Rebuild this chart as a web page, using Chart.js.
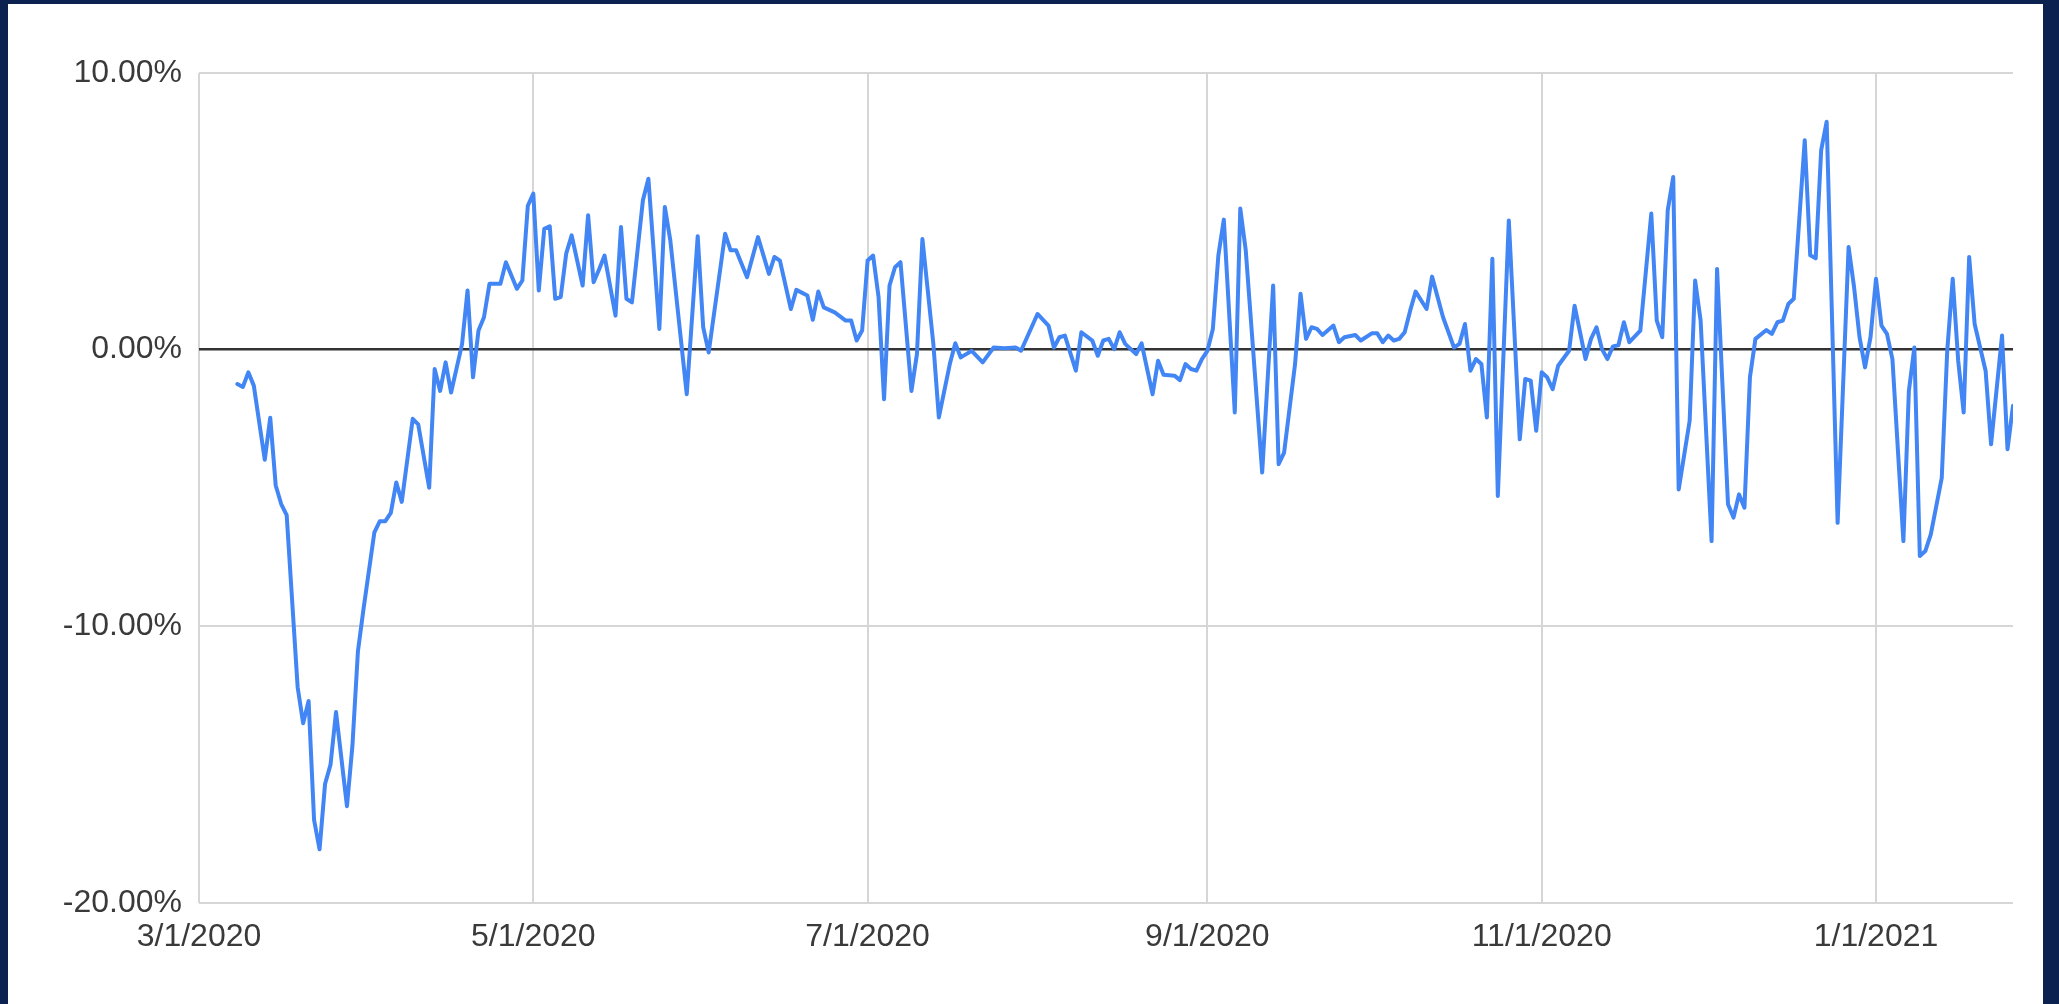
<!DOCTYPE html>
<html>
<head>
<meta charset="utf-8">
<title>Daily change</title>
<script src="https://cdn.jsdelivr.net/npm/chart.js@4.4.1/dist/chart.umd.min.js"></script>
<style>
  html, body { margin: 0; padding: 0; background: #0b2250; overflow: hidden; }
  #frame { position: absolute; left: 8px; top: 4px; width: 2035px; height: 1000px; background: #fff; }
</style>
</head>
<body>
<div id="frame"><canvas id="changeChart" width="2035" height="1000"></canvas></div>
<script>
// dates (M/D/YYYY)
const dates = [
    '3/8/2020','3/9/2020','3/10/2020','3/11/2020','3/13/2020','3/14/2020','3/15/2020','3/16/2020','3/17/2020','3/19/2020','3/20/2020','3/21/2020','3/22/2020','3/23/2020','3/24/2020','3/25/2020','3/26/2020','3/28/2020','3/29/2020','3/30/2020','3/31/2020',
    '4/2/2020','4/3/2020','4/4/2020','4/5/2020','4/6/2020','4/7/2020','4/9/2020','4/10/2020','4/12/2020','4/13/2020','4/14/2020','4/15/2020','4/16/2020','4/18/2020','4/19/2020','4/20/2020','4/21/2020','4/22/2020','4/23/2020','4/25/2020','4/26/2020','4/28/2020','4/29/2020','4/30/2020',
    '5/1/2020','5/2/2020','5/3/2020','5/4/2020','5/5/2020','5/6/2020','5/7/2020','5/8/2020','5/10/2020','5/11/2020','5/12/2020','5/13/2020','5/14/2020','5/16/2020','5/17/2020','5/18/2020','5/19/2020','5/21/2020','5/22/2020','5/24/2020','5/25/2020','5/26/2020','5/29/2020','5/31/2020',
    '6/1/2020','6/2/2020','6/5/2020','6/6/2020','6/7/2020','6/9/2020','6/11/2020','6/13/2020','6/14/2020','6/15/2020','6/17/2020','6/18/2020','6/20/2020','6/21/2020','6/22/2020','6/23/2020','6/25/2020','6/27/2020','6/28/2020','6/29/2020','6/30/2020',
    '7/1/2020','7/2/2020','7/3/2020','7/4/2020','7/5/2020','7/6/2020','7/7/2020','7/9/2020','7/10/2020','7/11/2020','7/13/2020','7/14/2020','7/16/2020','7/17/2020','7/18/2020','7/19/2020','7/20/2020','7/22/2020','7/24/2020','7/26/2020','7/28/2020','7/29/2020',
    '8/1/2020','8/3/2020','8/4/2020','8/5/2020','8/6/2020','8/8/2020','8/9/2020','8/11/2020','8/12/2020','8/13/2020','8/14/2020','8/15/2020','8/16/2020','8/17/2020','8/19/2020','8/20/2020','8/22/2020','8/23/2020','8/24/2020','8/26/2020','8/27/2020','8/28/2020','8/29/2020','8/30/2020','8/31/2020',
    '9/1/2020','9/2/2020','9/3/2020','9/4/2020','9/6/2020','9/7/2020','9/8/2020','9/11/2020','9/13/2020','9/14/2020','9/15/2020','9/17/2020','9/18/2020','9/19/2020','9/20/2020','9/21/2020','9/22/2020','9/24/2020','9/25/2020','9/26/2020','9/28/2020','9/29/2020',
    '10/1/2020','10/2/2020','10/3/2020','10/4/2020','10/5/2020','10/6/2020','10/7/2020','10/8/2020','10/9/2020','10/11/2020','10/12/2020','10/14/2020','10/16/2020','10/17/2020','10/18/2020','10/19/2020','10/20/2020','10/21/2020','10/22/2020','10/23/2020','10/24/2020','10/26/2020','10/28/2020','10/29/2020','10/30/2020','10/31/2020',
    '11/1/2020','11/2/2020','11/3/2020','11/4/2020','11/6/2020','11/7/2020','11/8/2020','11/9/2020','11/10/2020','11/11/2020','11/12/2020','11/13/2020','11/14/2020','11/15/2020','11/16/2020','11/17/2020','11/19/2020','11/21/2020','11/22/2020','11/23/2020','11/24/2020','11/25/2020','11/26/2020','11/28/2020','11/29/2020','11/30/2020',
    '12/2/2020','12/3/2020','12/5/2020','12/6/2020','12/7/2020','12/8/2020','12/9/2020','12/10/2020','12/12/2020','12/13/2020','12/14/2020','12/15/2020','12/16/2020','12/17/2020','12/19/2020','12/20/2020','12/21/2020','12/22/2020','12/23/2020','12/25/2020','12/27/2020','12/28/2020','12/29/2020','12/30/2020','12/31/2020',
    '1/1/2021','1/2/2021','1/3/2021','1/4/2021','1/6/2021','1/7/2021','1/8/2021','1/9/2021','1/10/2021','1/11/2021','1/13/2021','1/14/2021','1/15/2021','1/16/2021','1/17/2021','1/18/2021','1/19/2021','1/21/2021','1/22/2021','1/24/2021','1/25/2021','1/26/2021'
];

// percent change, same order as dates
const values = [
    -1.24,-1.35,-0.82,-1.30,-3.98,-2.46,-4.91,-5.58,-5.98,-12.2,-13.5,-12.7,-17.0,-18.06,-15.7,-15.0,-13.1,-16.5,-14.3,-10.9,-9.4,
    -6.6,-6.2,-6.2,-5.9,-4.8,-5.5,-2.5,-2.7,-4.99,-0.70,-1.49,-0.46,-1.55,0.2,2.14,-1.0,0.69,1.17,2.38,2.38,3.16,2.2,2.5,5.2,
    5.64,2.14,4.37,4.46,1.84,1.9,3.47,4.13,2.32,4.86,2.44,2.9,3.4,1.23,4.43,1.84,1.71,5.4,6.18,0.75,5.16,3.95,-1.61,4.1,
    0.81,-0.1,4.19,3.59,3.59,2.62,4.07,2.74,3.35,3.22,1.47,2.16,1.96,1.08,2.1,1.53,1.35,1.05,1.05,0.33,0.69,
    3.22,3.4,1.9,-1.79,2.32,2.98,3.16,-1.49,-0.16,4.0,0.2,-2.45,-0.52,0.23,-0.28,-0.16,-0.04,-0.46,0.08,0.05,0.08,-0.04,
    1.29,0.87,0.08,0.45,0.51,-0.76,0.63,0.33,-0.22,0.33,0.39,0.02,0.63,0.21,-0.16,0.23,-1.61,-0.4,-0.91,-0.94,-1.10,-0.52,-0.7,-0.76,-0.34,
    -0.04,0.75,3.4,4.7,-2.27,5.1,3.59,-4.44,2.32,-4.14,-3.72,-0.52,2.02,0.39,0.81,0.75,0.53,0.87,0.27,0.45,0.53,0.33,
    0.59,0.59,0.27,0.51,0.33,0.39,0.63,1.41,2.1,1.47,2.64,1.17,0.08,0.21,0.93,-0.76,-0.34,-0.52,-2.45,3.29,-5.29,4.67,-3.24,-1.06,-1.12,-2.93,
    -0.82,-1.0,-1.43,-0.58,-0.04,1.59,0.63,-0.34,0.39,0.81,0.02,-0.34,0.12,0.16,0.99,0.27,0.69,4.92,1.05,0.45,5.04,6.24,-5.05,-2.57,2.5,1.05,
    -6.92,2.92,-5.59,-6.07,-5.23,-5.71,-1.0,0.39,0.71,0.57,0.99,1.05,1.65,1.84,7.57,3.41,3.3,7.21,8.24,-6.26,3.71,2.26,0.45,-0.64,0.45,
    2.56,0.87,0.57,-0.34,-6.92,-1.49,0.08,-7.46,-7.28,-6.68,-4.63,-0.04,2.56,-0.4,-2.27,3.35,0.93,-0.76,-3.42,0.51,-3.6,-2.03
];

const xTickLabels = ['3/1/2020', '5/1/2020', '7/1/2020', '9/1/2020', '11/1/2020', '1/1/2021'];
const yTickValues = [-20, -10, 0, 10];

// days since 3/1/2020, so the x axis is a plain linear scale
function dayOffset(str) {
    const p = str.split('/').map(Number);
    return (Date.UTC(p[2], p[0] - 1, p[1]) - Date.UTC(2020, 2, 1)) / 86400000;
}

function initChart() {
    const ctx = document.getElementById('changeChart').getContext('2d');
    const points = dates.map((d, i) => ({ x: dayOffset(d), y: values[i] }));
    const tickDays = xTickLabels.map(dayOffset);

    new Chart(ctx, {
        type: 'line',
        data: {
            datasets: [{
                data: points,
                borderColor: '#4285f4',
                borderWidth: 4,
                borderJoinStyle: 'round',
                borderCapStyle: 'round',
                pointRadius: 0,
                tension: 0,
                fill: false
            }]
        },
        options: {
            responsive: false,
            animation: false,
            layout: { padding: { left: 0, top: 69, right: 30, bottom: 0 } },
            plugins: {
                legend: { display: false },
                tooltip: { enabled: false }
            },
            scales: {
                x: {
                    type: 'linear',
                    min: 0,
                    max: dayOffset(dates[dates.length - 1]),
                    afterBuildTicks: axis => { axis.ticks = tickDays.map(v => ({ value: v })); },
                    afterFit: axis => { axis.height = 101; },
                    ticks: {
                        autoSkip: false,
                        maxRotation: 0,
                        padding: 15,
                        color: '#3a3a3a',
                        font: { family: '"Liberation Sans", Arial, sans-serif', size: 32 },
                        callback: (value, index) => xTickLabels[index]
                    },
                    grid: { color: '#d6d6d6', lineWidth: 2, drawTicks: false },
                    border: { display: false }
                },
                y: {
                    min: -20,
                    max: 10,
                    afterBuildTicks: axis => { axis.ticks = yTickValues.map(v => ({ value: v })); },
                    afterFit: axis => { axis.width = 191; },
                    ticks: {
                        padding: 17,
                        color: '#3a3a3a',
                        font: { family: '"Liberation Sans", Arial, sans-serif', size: 32 },
                        callback: value => value.toFixed(2) + '%'
                    },
                    grid: {
                        color: c => (c.tick && c.tick.value === 0) ? '#333' : '#d6d6d6',
                        lineWidth: c => (c.tick && c.tick.value === 0) ? 2.5 : 2,
                        drawTicks: false
                    },
                    border: { display: false }
                }
            }
        }
    });
}

document.addEventListener('DOMContentLoaded', initChart);
</script>
</body>
</html>
